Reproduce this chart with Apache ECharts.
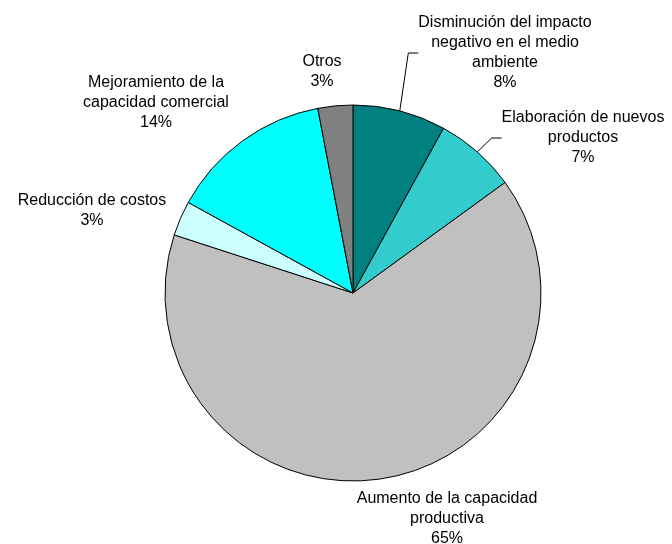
<!DOCTYPE html>
<html>
<head>
<meta charset="utf-8">
<script src="https://cdn.jsdelivr.net/npm/echarts@6/dist/echarts.min.js"></script>
<style>
  html, body { margin: 0; padding: 0; background: #fff; }
  #myChart { width: 672px; height: 544px; }
</style>
</head>
<body>
<div id="myChart"></div>
<script>
// categories, clockwise from 12 o'clock
var categories = [
  "Disminución del impacto\nnegativo en el medio\nambiente",
  "Elaboración de nuevos\nproductos",
  "Aumento de la capacidad\nproductiva",
  "Reducción de costos",
  "Mejoramiento de la\ncapacidad comercial",
  "Otros"
];
var values = [8, 7, 65, 3, 14, 3];

var sliceColors = ["#008080", "#33CCCC", "#C0C0C0", "#CCFFFF", "#00FFFF", "#808080"];
// label centres (px) and whether a leader line is drawn
var labelPos = [[505, 53], [583, 138], [447, 519], [92, 211], [156, 103], [322, 72]];
var showLine = [true, true, false, false, false, false];

var pieData = [];
for (var i = 0; i < categories.length; i++) {
  pieData.push({
    name: categories[i],
    value: values[i],
    itemStyle: { color: sliceColors[i] },
    labelLine: { show: showLine[i] }
  });
}

var myChart = echarts.init(document.getElementById("myChart"));
myChart.setOption({
  backgroundColor: "#fff",
  animation: false,
  series: [
    {
      type: "pie",
      center: [353, 293],
      radius: 188,
      startAngle: 90,
      clockwise: true,
      avoidLabelOverlap: false,
      emphasis: { disabled: true },
      itemStyle: { borderColor: "#000", borderWidth: 1 },
      label: {
        show: true,
        position: "outside",
        formatter: "{b}\n{d}%",
        color: "#000",
        fontFamily: "Liberation Sans, Arial, sans-serif",
        fontSize: 16,
        lineHeight: 20,
        align: "center"
      },
      labelLine: {
        show: true,
        length: 10,
        length2: 10,
        smooth: false,
        lineStyle: { color: "#000", width: 1 }
      },
      labelLayout: function (params) {
        var p = labelPos[params.dataIndex];
        return {
          x: p[0],
          y: p[1],
          align: "center",
          verticalAlign: "middle"
        };
      },
      data: pieData
    }
  ]
});
</script>
</body>
</html>
